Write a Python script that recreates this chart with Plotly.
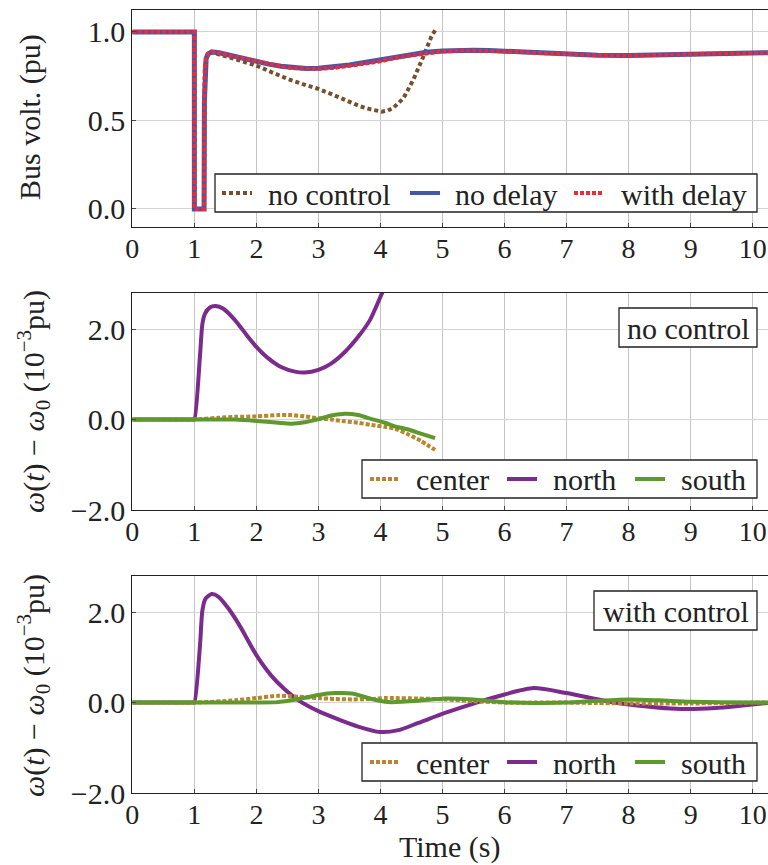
import plotly.graph_objects as go

# ---------------- data ----------------
# bus voltage (pu)
t_volt_ctrl = [0.0, 0.5, 0.99, 1.0, 1.0, 1.01, 1.147, 1.157, 1.162, 1.17, 1.19, 1.22, 1.28, 1.4, 1.6, 1.8, 2.0,
               2.2, 2.4, 2.6, 2.8, 3.0, 3.25, 3.5, 3.67, 3.85, 4.0, 4.21, 4.5, 4.74, 5.0, 5.28, 5.5, 5.75, 6.0,
               6.5, 7.0, 7.5, 8.0, 8.5, 9.0, 9.5, 10.0, 10.3]
v_no_delay = [1.0, 1.0, 1.0, 1.0, 0.0, 0.0, 0.0, 0.0, 0.6, 0.8, 0.85, 0.875, 0.887, 0.882, 0.865, 0.85, 0.833,
              0.818, 0.806, 0.797, 0.794, 0.795, 0.802, 0.814, 0.823, 0.833, 0.842, 0.86, 0.875, 0.885, 0.892,
              0.898, 0.897, 0.895, 0.891, 0.882, 0.875, 0.869, 0.867, 0.869, 0.874, 0.879, 0.882, 0.883]
v_with_delay = [1.0, 1.0, 1.0, 1.0, 0.0, 0.0, 0.0, 0.0, 0.6, 0.8, 0.85, 0.875, 0.887, 0.882, 0.865, 0.85, 0.833,
                0.818, 0.805, 0.795, 0.791, 0.792, 0.797, 0.807, 0.816, 0.826, 0.834, 0.852, 0.868, 0.88, 0.889,
                0.896, 0.896, 0.894, 0.891, 0.882, 0.875, 0.869, 0.867, 0.869, 0.874, 0.879, 0.882, 0.883]
t_volt_none = [0.0, 0.5, 0.99, 1.0, 1.0, 1.01, 1.147, 1.157, 1.162, 1.17, 1.19, 1.22, 1.28, 1.4, 1.6, 1.8, 2.0,
               2.25, 2.5, 2.75, 3.0, 3.25, 3.5, 3.67, 3.85, 4.02, 4.12, 4.21, 4.37, 4.53, 4.69, 4.82, 4.89]
v_no_control = [1.0, 1.0, 1.0, 1.0, 0.0, 0.0, 0.0, 0.0, 0.6, 0.8, 0.85, 0.875, 0.885, 0.874, 0.853, 0.831, 0.81,
                0.772, 0.735, 0.705, 0.678, 0.643, 0.605, 0.58, 0.562, 0.55, 0.556, 0.572, 0.625, 0.73, 0.86,
                0.973, 1.015]

# frequency deviation without control (10^-3 pu)
t_nc_north = [0.0, 0.5, 0.98, 1.0, 1.09, 1.13, 1.17, 1.25, 1.344, 1.467, 1.655, 1.843, 2.0, 2.193, 2.408,
              2.62, 2.78, 3.0, 3.21, 3.43, 3.64, 3.83, 4.02, 4.06]
nc_north = [0.0, 0.0, 0.0, 0.0, 1.39, 2.12, 2.34, 2.48, 2.51, 2.45, 2.2, 1.87, 1.61, 1.355, 1.157, 1.06,
            1.04, 1.1, 1.245, 1.5, 1.83, 2.2, 2.78, 2.9]
t_nc_other = [0.0, 0.5, 1.0, 1.39, 1.66, 2.0, 2.35, 2.56, 2.78, 3.0, 3.21, 3.43, 3.64, 3.86, 4.07, 4.23, 4.45,
              4.65, 4.88]
nc_center = [0.0, 0.0, 0.0, 0.04, 0.06, 0.07, 0.1, 0.1, 0.07, 0.03, 0.0, -0.04, -0.07, -0.12, -0.16, -0.2,
             -0.33, -0.47, -0.67]
nc_south = [0.0, 0.0, 0.0, 0.0, 0.0, -0.03, -0.07, -0.09, -0.06, 0.01, 0.09, 0.13, 0.1, 0.01, -0.07, -0.15,
            -0.22, -0.31, -0.41]

# frequency deviation with control (10^-3 pu)
t_wc_north = [0.0, 0.5, 0.98, 1.0, 1.09, 1.13, 1.18, 1.28, 1.39, 1.55, 1.74, 2.0, 2.25, 2.46, 2.68, 3.0, 3.32,
              3.64, 3.99, 4.29, 4.61, 5.04, 5.55, 6.0, 6.47, 7.0, 7.65, 8.0, 8.84, 9.4, 9.8, 10.3]
wc_north = [0.0, 0.0, 0.0, 0.0, 1.24, 2.04, 2.3, 2.4, 2.34, 2.08, 1.68, 1.05, 0.58, 0.29, 0.05, -0.19, -0.37,
            -0.53, -0.65, -0.61, -0.45, -0.23, 0.0, 0.18, 0.32, 0.21, 0.03, -0.04, -0.14, -0.12, -0.07, 0.0]
t_wc_other = [0.0, 0.5, 1.0, 1.66, 2.0, 2.35, 2.56, 2.68, 3.0, 3.27, 3.54, 3.86, 4.07, 4.18, 4.61, 5.04, 5.5,
              6.0, 6.6, 7.0, 7.5, 8.0, 8.5, 9.0, 10.0, 10.3]
wc_center = [0.0, 0.0, 0.0, 0.05, 0.1, 0.15, 0.14, 0.13, 0.1, 0.08, 0.07, 0.08, 0.1, 0.1, 0.09, 0.07, 0.03,
             0.0, 0.0, 0.0, -0.01, -0.02, -0.02, -0.02, 0.0, 0.0]
wc_south = [0.0, 0.0, 0.0, 0.0, 0.0, 0.01, 0.05, 0.08, 0.17, 0.21, 0.2, 0.08, 0.02, 0.01, 0.04, 0.09, 0.07,
            0.01, -0.01, 0.0, 0.04, 0.07, 0.05, 0.02, 0.0, 0.0]

x_ticks = [0, 1, 2, 3, 4, 5, 6, 7, 8, 9, 10]
volt_ticks = [0.0, 0.5, 1.0]
freq_ticks = [-2.0, 0.0, 2.0]

# ---------------- styling ----------------
FONT = "Liberation Serif, Tinos, Times New Roman, DejaVu Serif, serif"
FS = 30
TICK_FS = 28
INK = "#222222"
C_BROWN = "#76502C"
C_BLUE = "#4257AE"
C_RED = "#EE2A36"
C_GOLD = "#B8862C"
C_PURPLE = "#7B2B8C"
C_GREEN = "#5E992E"

DOT_BROWN = "4px,3px"
DOT_RED = "4px,2px"
DOT_GOLD = "4px,2px"

W, H = 768, 865
X0 = 132.3
PX_PER_S = 62.04
X_MAX = (W - X0) / PX_PER_S


def ydom(top_px, bottom_px):
    return [1 - bottom_px / H, 1 - top_px / H]


def px(x):
    return x / W


def py(y):
    return 1 - y / H


fig = go.Figure()


def add_line(x, y, color, width, dash, xa, ya, smooth=True):
    shape = dict(shape="spline", smoothing=0.7) if smooth else dict(shape="linear")
    fig.add_trace(go.Scatter(x=x, y=y, mode="lines", showlegend=False, hoverinfo="skip",
                             line=dict(color=color, width=width, dash=dash, **shape),
                             xaxis=xa, yaxis=ya))


# panel 1: bus voltage
add_line(t_volt_none, v_no_control, C_BROWN, 4, DOT_BROWN, "x", "y", smooth=False)
add_line(t_volt_ctrl, v_no_delay, C_BLUE, 5, "solid", "x", "y", smooth=False)
add_line(t_volt_ctrl, v_with_delay, C_RED, 4, DOT_RED, "x", "y", smooth=False)

# panel 2: without control
add_line(t_nc_north, nc_north, C_PURPLE, 4, "solid", "x2", "y2")
add_line(t_nc_other, nc_center, C_GOLD, 4, DOT_GOLD, "x2", "y2")
add_line(t_nc_other, nc_south, C_GREEN, 4, "solid", "x2", "y2")

# panel 3: with control
add_line(t_wc_north, wc_north, C_PURPLE, 4, "solid", "x3", "y3")
add_line(t_wc_other, wc_center, C_GOLD, 4, DOT_GOLD, "x3", "y3")
add_line(t_wc_other, wc_south, C_GREEN, 4, "solid", "x3", "y3")

xdom = [X0 / W, 1.0]
common_x = dict(domain=xdom, range=[0, X_MAX], tickvals=x_ticks, showgrid=True, gridcolor="#c4c4c4",
                gridwidth=1, zeroline=False, showline=True, linecolor=INK, linewidth=1.3,
                mirror=True, ticks="inside", ticklen=4, tickcolor="#444444", ticklabelstandoff=-4,
                tickfont=dict(family=FONT, size=TICK_FS, color=INK))
common_y = dict(showgrid=True, gridcolor="#d4d4d4", gridwidth=1, zeroline=False, showline=True,
                linecolor=INK, linewidth=1.3, ticks="inside", ticklen=4, tickcolor="#444444",
                tickfont=dict(family=FONT, size=FS, color=INK), tickformat=".1f")

fig.update_layout(
    width=W, height=H, autosize=False, margin=dict(l=0, r=0, t=0, b=0, autoexpand=False),
    paper_bgcolor="white", plot_bgcolor="white", showlegend=False,
    font=dict(family=FONT, size=FS, color=INK),
    xaxis=dict(common_x, anchor="y"),
    xaxis2=dict(common_x, anchor="y2"),
    xaxis3=dict(common_x, anchor="y3"),
    yaxis=dict(common_y, domain=ydom(10, 227), range=[-0.102, 1.124], tickvals=volt_ticks, anchor="x"),
    yaxis2=dict(common_y, domain=ydom(293, 510), range=[-2.0, 2.8], tickvals=freq_ticks, anchor="x2"),
    yaxis3=dict(common_y, domain=ydom(576, 793), range=[-2.0, 2.8], tickvals=freq_ticks, anchor="x3"),
)

txt_font = dict(family=FONT, size=FS, color=INK)


def text(s, x, y, xanchor="left", angle=0, yanchor="middle"):
    fig.add_annotation(text=s, xref="paper", yref="paper", x=px(x), y=py(y), xanchor=xanchor,
                       yanchor=yanchor, showarrow=False, font=txt_font, textangle=angle)


def box(x0, y0, x1, y1):
    fig.add_shape(type="rect", xref="paper", yref="paper", x0=px(x0), x1=px(x1), y0=py(y1), y1=py(y0),
                  fillcolor="white", line=dict(color=INK, width=1.3), layer="above")


def legend(x0, y0, x1, y1, entries):
    box(x0, y0, x1, y1)
    yc = (y0 + y1) / 2
    for label, color, width, dash, sx, tx in entries:
        fig.add_shape(type="line", xref="paper", yref="paper", x0=px(sx), x1=px(sx + 30), y0=py(yc),
                      y1=py(yc), line=dict(color=color, width=width, dash=dash), layer="above")
        text(label, tx, yc + 1)


# legends
legend(215, 174, 757, 212, [
    ("no control", C_BROWN, 4, DOT_BROWN, 222, 266),
    ("no delay", C_BLUE, 4, "solid", 410, 453),
    ("with delay", C_RED, 4, DOT_RED, 574, 619),
])
freq_entries = [
    ("center", C_GOLD, 4, DOT_GOLD, 370, 414),
    ("north", C_PURPLE, 4, "solid", 507, 551),
    ("south", C_GREEN, 4, "solid", 635, 679),
]
legend(362, 460, 757, 498, freq_entries)
legend(362, 743, 757, 781, freq_entries)

# panel tags
box(619, 308, 757, 347)
text("no control", 688, 328, xanchor="center")
box(594, 591, 757, 630)
text("with control", 675.5, 611, xanchor="center")

# axis titles
omega_title = "<i>ω</i>(<i>t</i>) − <i>ω</i><sub>0</sub> (10<sup>−3</sup>pu)"
text("Bus volt. (pu)", 30, 117, xanchor="center", angle=-90)
text(omega_title, 33, 402, xanchor="center", angle=-90)
text(omega_title, 33, 686, xanchor="center", angle=-90)
text("Time (s)", 449, 866, xanchor="center", yanchor="bottom")

fig.write_html("out.html", config={"responsive": False},
               post_script="document.body.style.margin='0';document.body.style.overflow='hidden';")
